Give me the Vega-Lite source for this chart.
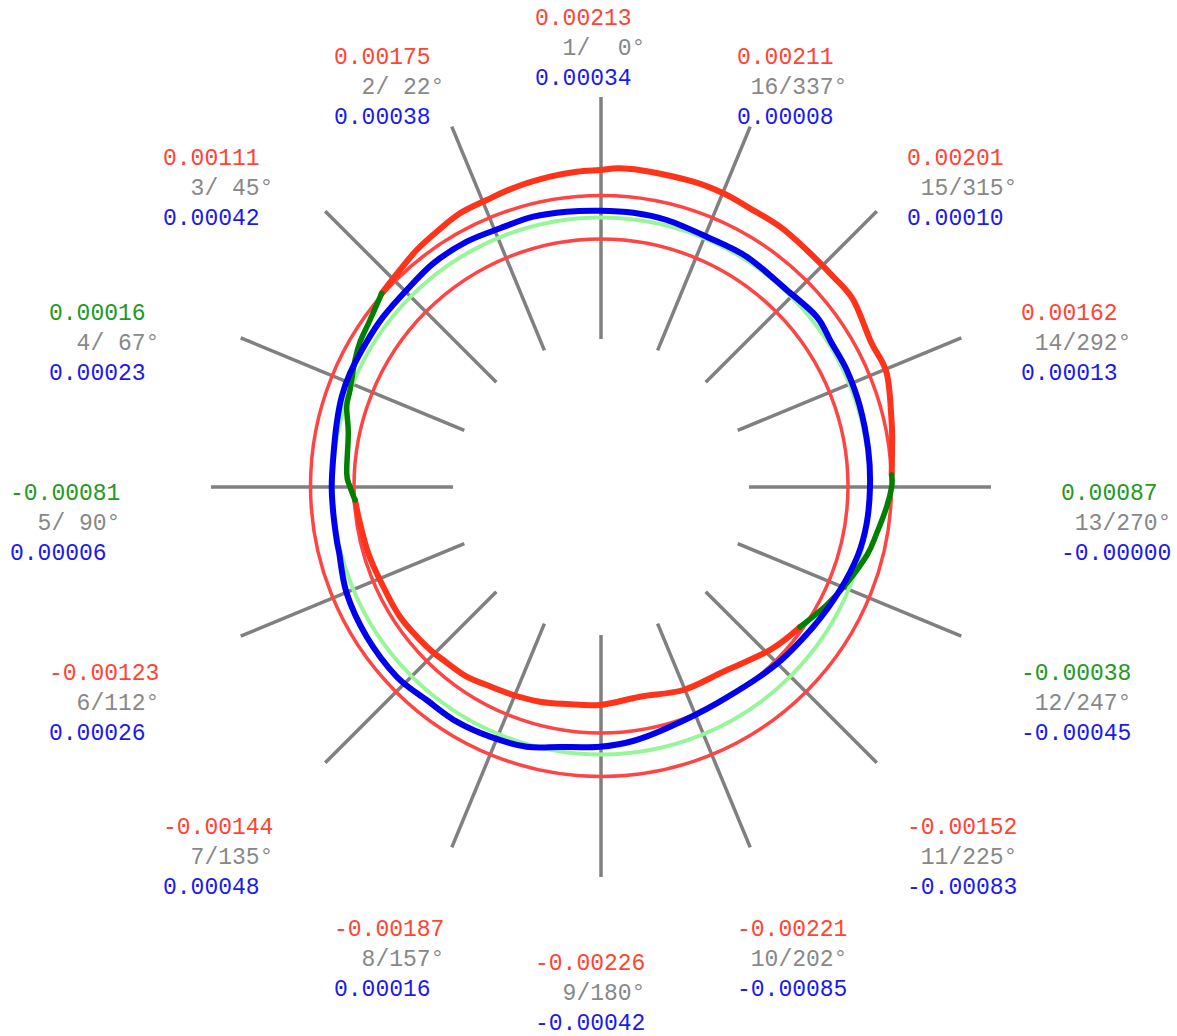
{
  "$schema": "https://vega.github.io/schema/vega-lite/v6.json",
  "width": 1177,
  "height": 1036,
  "padding": 0,
  "autosize": {"type": "none"},
  "background": "white",
  "config": {"view": {"stroke": null}},
  "datasets": {
    "spokes": [
      {"x": 0, "y": 148, "x2": 0, "y2": 390},
      {"x": -56.6, "y": 136.7, "x2": -149.2, "y2": 360.3},
      {"x": -104.7, "y": 104.7, "x2": -275.8, "y2": 275.8},
      {"x": -136.7, "y": 56.6, "x2": -360.3, "y2": 149.2},
      {"x": -148, "y": 0, "x2": -390, "y2": 0},
      {"x": -136.7, "y": -56.6, "x2": -360.3, "y2": -149.2},
      {"x": -104.7, "y": -104.7, "x2": -275.8, "y2": -275.8},
      {"x": -56.6, "y": -136.7, "x2": -149.2, "y2": -360.3},
      {"x": 0, "y": -148, "x2": 0, "y2": -390},
      {"x": 56.6, "y": -136.7, "x2": 149.2, "y2": -360.3},
      {"x": 104.7, "y": -104.7, "x2": 275.8, "y2": -275.8},
      {"x": 136.7, "y": -56.6, "x2": 360.3, "y2": -149.2},
      {"x": 148, "y": 0, "x2": 390, "y2": 0},
      {"x": 136.7, "y": 56.6, "x2": 360.3, "y2": 149.2},
      {"x": 104.7, "y": 104.7, "x2": 275.8, "y2": 275.8},
      {"x": 56.6, "y": 136.7, "x2": 149.2, "y2": 360.3}
    ],
    "tolerance": [
      {"x": 0, "y": 1, "r": 290.5},
      {"x": 0, "y": 1, "r": 247}
    ],
    "base": [
      {"x": 0, "y": 1, "r": 268.5}
    ],
    "redA": [
      {"x": -246, "y": -13}, {"x": -241, "y": -36.3}, {"x": -232.7, "y": -66.3}, {"x": -221, "y": -93},
      {"x": -201, "y": -129.7}, {"x": -174.3, "y": -159.7}, {"x": -157.7, "y": -173}, {"x": -134.3, "y": -189.7},
      {"x": -114.3, "y": -198}, {"x": -87.7, "y": -208}, {"x": -61, "y": -214.7}, {"x": -34.3, "y": -217},
      {"x": -1, "y": -218}, {"x": 39, "y": -209.7}, {"x": 82.3, "y": -203}, {"x": 122.3, "y": -184.7},
      {"x": 169, "y": -163}, {"x": 199, "y": -140}
    ],
    "redB": [
      {"x": 290.7, "y": 12}, {"x": 291, "y": 37}, {"x": 290.7, "y": 63.7}, {"x": 285.7, "y": 113.7},
      {"x": 270, "y": 145}, {"x": 252.3, "y": 187}, {"x": 232.3, "y": 210.3}, {"x": 205.7, "y": 237},
      {"x": 179, "y": 260.3}, {"x": 149, "y": 278.7}, {"x": 122.3, "y": 293.7}, {"x": 92.3, "y": 305.3},
      {"x": 49, "y": 315.3}, {"x": 19, "y": 318.7}, {"x": -1, "y": 317}, {"x": -24.3, "y": 315.3},
      {"x": -51, "y": 310.3}, {"x": -84.3, "y": 300.3}, {"x": -114.3, "y": 287}, {"x": -141, "y": 273.7},
      {"x": -164.3, "y": 255.3}, {"x": -184.3, "y": 237}, {"x": -201, "y": 217}, {"x": -219.3, "y": 193.7}
    ],
    "greenL": [
      {"x": -219.3, "y": 193.7}, {"x": -231, "y": 167}, {"x": -241, "y": 145}, {"x": -246, "y": 127},
      {"x": -251, "y": 97}, {"x": -254.3, "y": 80.3}, {"x": -252.7, "y": 53.7}, {"x": -254.3, "y": 13.7},
      {"x": -251, "y": 0.3}, {"x": -246, "y": -13}
    ],
    "greenR": [
      {"x": 199, "y": -140}, {"x": 225.7, "y": -118}, {"x": 245.7, "y": -96.3}, {"x": 266, "y": -68},
      {"x": 275.7, "y": -46.3}, {"x": 285.7, "y": -19.7}, {"x": 290.7, "y": 0.3}, {"x": 290.7, "y": 12}
    ],
    "blue": [
      {"x": -1, "y": 276.3}, {"x": -34.3, "y": 275.3}, {"x": -67.7, "y": 270.3}, {"x": -101, "y": 258.7},
      {"x": -134.3, "y": 245.3}, {"x": -167.7, "y": 223.7}, {"x": -194.3, "y": 197}, {"x": -217.7, "y": 170.3},
      {"x": -235, "y": 144}, {"x": -251, "y": 113.7}, {"x": -259.3, "y": 90.3}, {"x": -264.3, "y": 63.7},
      {"x": -267.7, "y": 30.3}, {"x": -269.3, "y": 0.3}, {"x": -267.7, "y": -26.3}, {"x": -264.3, "y": -53},
      {"x": -262, "y": -65}, {"x": -254.3, "y": -106.3}, {"x": -234.3, "y": -149.7}, {"x": -204.3, "y": -189.7},
      {"x": -174.3, "y": -213}, {"x": -144.3, "y": -234.7}, {"x": -111, "y": -249.7}, {"x": -74.3, "y": -259.7},
      {"x": -41, "y": -260}, {"x": -1, "y": -259.7}, {"x": 32, "y": -254}, {"x": 65.7, "y": -241.3},
      {"x": 115.7, "y": -216.3}, {"x": 172.3, "y": -179.7}, {"x": 212.3, "y": -139.7}, {"x": 239, "y": -103},
      {"x": 257, "y": -68}, {"x": 265.7, "y": -36.3}, {"x": 269, "y": 0.3}, {"x": 267.3, "y": 37},
      {"x": 259, "y": 80.3}, {"x": 245.7, "y": 117}, {"x": 230, "y": 145}, {"x": 215.7, "y": 170.3},
      {"x": 185.7, "y": 197}, {"x": 145.7, "y": 230.3}, {"x": 105.7, "y": 250.3}, {"x": 65.7, "y": 267},
      {"x": 32.3, "y": 274.3}
    ],
    "labels": [
      {"n": 1, "x": -66, "y": 439, "upper": "0.00213", "mid": "1/\u00a0\u00a00°", "lower": "0.00034", "tone": "red"},
      {"n": 2, "x": -267, "y": 400, "upper": "0.00175", "mid": "2/\u00a022°", "lower": "0.00038", "tone": "red"},
      {"n": 3, "x": -438, "y": 299, "upper": "0.00111", "mid": "3/\u00a045°", "lower": "0.00042", "tone": "red"},
      {"n": 4, "x": -552, "y": 144, "upper": "0.00016", "mid": "4/\u00a067°", "lower": "0.00023", "tone": "green"},
      {"n": 5, "x": -591, "y": -36, "upper": "-0.00081", "mid": "5/\u00a090°", "lower": "0.00006", "tone": "green"},
      {"n": 6, "x": -552, "y": -216, "upper": "-0.00123", "mid": "6/112°", "lower": "0.00026", "tone": "red"},
      {"n": 7, "x": -438, "y": -370, "upper": "-0.00144", "mid": "7/135°", "lower": "0.00048", "tone": "red"},
      {"n": 8, "x": -267, "y": -472, "upper": "-0.00187", "mid": "8/157°", "lower": "0.00016", "tone": "red"},
      {"n": 9, "x": -66, "y": -506, "upper": "-0.00226", "mid": "9/180°", "lower": "-0.00042", "tone": "red"},
      {"n": 10, "x": 136, "y": -472, "upper": "-0.00221", "mid": "10/202°", "lower": "-0.00085", "tone": "red"},
      {"n": 11, "x": 306, "y": -370, "upper": "-0.00152", "mid": "11/225°", "lower": "-0.00083", "tone": "red"},
      {"n": 12, "x": 420, "y": -216, "upper": "-0.00038", "mid": "12/247°", "lower": "-0.00045", "tone": "green"},
      {"n": 13, "x": 460, "y": -36, "upper": "0.00087", "mid": "13/270°", "lower": "-0.00000", "tone": "green"},
      {"n": 14, "x": 420, "y": 144, "upper": "0.00162", "mid": "14/292°", "lower": "0.00013", "tone": "red"},
      {"n": 15, "x": 306, "y": 299, "upper": "0.00201", "mid": "15/315°", "lower": "0.00010", "tone": "red"},
      {"n": 16, "x": 136, "y": 400, "upper": "0.00211", "mid": "16/337°", "lower": "0.00008", "tone": "red"}
    ]
  },
  "encoding": {
    "x": {"field": "x", "type": "quantitative", "scale": {"domain": [-601, 576], "nice": false, "zero": false}, "axis": null},
    "y": {"field": "y", "type": "quantitative", "scale": {"domain": [-549, 487], "nice": false, "zero": false}, "axis": null}
  },
  "layer": [
    {
      "data": {"name": "spokes"},
      "mark": {"type": "rule", "color": "#808080", "strokeWidth": 3.5},
      "encoding": {"x2": {"field": "x2"}, "y2": {"field": "y2"}}
    },
    {
      "data": {"name": "tolerance"},
      "mark": {"type": "point", "shape": "circle", "filled": false, "stroke": "#ff4444", "strokeWidth": 3.5, "opacity": 1},
      "encoding": {"size": {"field": "r", "type": "quantitative", "scale": {"type": "pow", "exponent": 2, "domain": [0, 300], "range": [0, 360000]}, "legend": null}}
    },
    {
      "data": {"name": "base"},
      "mark": {"type": "point", "shape": "circle", "filled": false, "stroke": "#99f599", "strokeWidth": 4, "opacity": 1},
      "encoding": {"size": {"field": "r", "type": "quantitative", "scale": {"type": "pow", "exponent": 2, "domain": [0, 300], "range": [0, 360000]}, "legend": null}}
    },
    {
      "data": {"name": "redA"},
      "mark": {"type": "line", "color": "#ff3319", "strokeWidth": 6, "interpolate": "cardinal", "strokeCap": "round"},
      "encoding": {"order": {"value": null}}
    },
    {
      "data": {"name": "redB"},
      "mark": {"type": "line", "color": "#ff3319", "strokeWidth": 6, "interpolate": "cardinal", "strokeCap": "round"},
      "encoding": {"order": {"value": null}}
    },
    {
      "data": {"name": "greenL"},
      "mark": {"type": "line", "color": "#008000", "strokeWidth": 5.5, "interpolate": "cardinal", "strokeCap": "round"},
      "encoding": {"order": {"value": null}}
    },
    {
      "data": {"name": "greenR"},
      "mark": {"type": "line", "color": "#008000", "strokeWidth": 5.5, "interpolate": "cardinal", "strokeCap": "round"},
      "encoding": {"order": {"value": null}}
    },
    {
      "data": {"name": "blue"},
      "mark": {"type": "line", "color": "#0000ee", "strokeWidth": 6, "interpolate": "cardinal-closed"},
      "encoding": {"order": {"value": null}}
    },
    {
      "data": {"name": "labels"},
      "transform": [{"filter": "datum.tone == 'red'"}],
      "mark": {"type": "text", "align": "left", "baseline": "middle", "dy": -30, "font": "Liberation Mono", "fontSize": 23, "color": "#ff4433"},
      "encoding": {"text": {"field": "upper"}}
    },
    {
      "data": {"name": "labels"},
      "transform": [{"filter": "datum.tone == 'green'"}],
      "mark": {"type": "text", "align": "left", "baseline": "middle", "dy": -30, "font": "Liberation Mono", "fontSize": 23, "color": "#229922"},
      "encoding": {"text": {"field": "upper"}}
    },
    {
      "data": {"name": "labels"},
      "transform": [{"filter": "datum.n < 10"}],
      "mark": {"type": "text", "align": "left", "baseline": "middle", "dx": 27.6, "font": "Liberation Mono", "fontSize": 23, "color": "#888888"},
      "encoding": {"text": {"field": "mid"}}
    },
    {
      "data": {"name": "labels"},
      "transform": [{"filter": "datum.n >= 10"}],
      "mark": {"type": "text", "align": "left", "baseline": "middle", "dx": 13.8, "font": "Liberation Mono", "fontSize": 23, "color": "#888888"},
      "encoding": {"text": {"field": "mid"}}
    },
    {
      "data": {"name": "labels"},
      "mark": {"type": "text", "align": "left", "baseline": "middle", "dy": 30, "font": "Liberation Mono", "fontSize": 23, "color": "#1a1aee"},
      "encoding": {"text": {"field": "lower"}}
    }
  ]
}
